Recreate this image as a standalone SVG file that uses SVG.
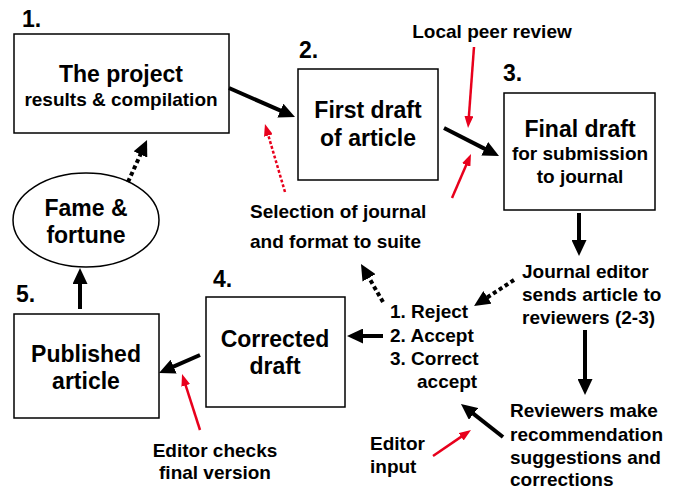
<svg xmlns="http://www.w3.org/2000/svg" width="673" height="490" viewBox="0 0 673 490">
<defs>
<style>
text{font-family:"Liberation Sans",Arial,sans-serif;font-weight:bold;fill:#000}
.t23{font-size:23px}
.t19{font-size:19px}
.c{text-anchor:middle}
.box{fill:#fff;stroke:#000;stroke-width:1.5}
.blk{stroke:#000;stroke-width:4;fill:none;marker-end:url(#ab)}
.blkd{stroke:#000;stroke-width:4;fill:none;stroke-dasharray:4 3;marker-end:url(#ab)}
.red{stroke:#e8001c;stroke-width:2.5;fill:none;marker-end:url(#ar)}
.redd{stroke:#e8001c;stroke-width:2.5;fill:none;stroke-dasharray:3 2;marker-end:url(#ar)}
</style>
<marker id="ab" markerUnits="userSpaceOnUse" markerWidth="16" markerHeight="15" refX="4" refY="7.5" orient="auto"><path d="M0,0 L16,7.5 L0,15 z" fill="#000"/></marker>
<marker id="ar" markerUnits="userSpaceOnUse" markerWidth="12" markerHeight="9" refX="3" refY="4.5" orient="auto"><path d="M0,0 L12,4.5 L0,9 z" fill="#e8001c"/></marker>
</defs>
<rect width="673" height="490" fill="#fff"/>
<g id="node1">
<text class="t23" x="22" y="27">1.</text>
<rect class="box" x="14" y="34" width="215" height="99"/>
<text class="t23 c" x="121" y="82">The project</text>
<text class="t19 c" x="121" y="106">results &amp; compilation</text>
</g>
<g id="node2">
<text class="t23" x="299" y="58">2.</text>
<rect class="box" x="298" y="69" width="140" height="111"/>
<text class="t23 c" x="368" y="118">First draft</text>
<text class="t23 c" x="368" y="146">of article</text>
</g>
<g id="node3">
<text class="t23" x="503" y="81">3.</text>
<rect class="box" x="504" y="93" width="151" height="117"/>
<text class="t23 c" x="580" y="137">Final draft</text>
<text class="t19 c" x="580" y="160">for submission</text>
<text class="t19 c" x="580" y="183">to journal</text>
</g>
<g id="node-fame">
<ellipse cx="86" cy="220" rx="73" ry="47" fill="#fff" stroke="#000" stroke-width="1.5"/>
<text class="t23 c" x="86" y="216">Fame &amp;</text>
<text class="t23 c" x="86" y="243">fortune</text>
</g>
<g id="node5">
<text class="t23" x="16" y="302">5.</text>
<rect class="box" x="14" y="314" width="145" height="104"/>
<text class="t23 c" x="86" y="362">Published</text>
<text class="t23 c" x="86" y="389">article</text>
</g>
<g id="node4">
<text class="t23" x="213" y="287">4.</text>
<rect class="box" x="206" y="297" width="139" height="110"/>
<text class="t23 c" x="275" y="347">Corrected</text>
<text class="t23 c" x="275" y="374">draft</text>
</g>
<g id="label-local">
<text class="t19 c" x="492" y="38">Local peer review</text>
</g>
<g id="label-selection">
<text class="t19" x="250" y="218">Selection of journal</text>
<text class="t19" x="250" y="248">and format to suite</text>
</g>
<g id="label-journal-editor">
<text class="t19" x="522" y="278">Journal editor</text>
<text class="t19" x="522" y="301">sends article to</text>
<text class="t19" x="522" y="324">reviewers (2-3)</text>
</g>
<g id="label-decision">
<text class="t19" x="390" y="318">1. Reject</text>
<text class="t19" x="390" y="342">2. Accept</text>
<text class="t19" x="390" y="365">3. Correct</text>
<text class="t19" x="417" y="388">accept</text>
</g>
<g id="label-reviewers">
<text class="t19" x="510" y="417">Reviewers make</text>
<text class="t19" x="510" y="441">recommendation</text>
<text class="t19" x="510" y="464">suggestions and</text>
<text class="t19" x="510" y="486">corrections</text>
</g>
<g id="label-editor-input">
<text class="t19" x="370" y="450">Editor</text>
<text class="t19" x="370" y="473">input</text>
</g>
<g id="label-editor-checks">
<text class="t19 c" x="215" y="457">Editor checks</text>
<text class="t19 c" x="215" y="479">final version</text>
</g>
<g id="connectors">
<line class="blk" x1="229" y1="88" x2="284" y2="112.2"/>
<line class="blk" x1="444" y1="128" x2="488.3" y2="150.6"/>
<line class="blk" x1="579" y1="213" x2="579" y2="244"/>
<line class="blk" x1="585" y1="330" x2="585" y2="383"/>
<line class="blk" x1="503" y1="437" x2="470.4" y2="411.4"/>
<line class="blk" x1="383" y1="336" x2="359" y2="336"/>
<line class="blk" x1="200" y1="355" x2="170" y2="368.2"/>
<line class="blk" x1="80" y1="309" x2="80" y2="280"/>
<line class="blkd" x1="128" y1="182" x2="142.1" y2="150.9"/>
<line class="blkd" x1="514" y1="280" x2="484.1" y2="299.5"/>
<line class="blkd" x1="383" y1="302" x2="367" y2="274.4"/>
<line class="red" x1="474" y1="47" x2="468.7" y2="119"/>
<line class="red" x1="452" y1="198" x2="467.4" y2="162.3"/>
<line class="redd" x1="285" y1="192" x2="267.5" y2="132.6"/>
<line class="red" x1="200" y1="430" x2="184.8" y2="382.6"/>
<line class="red" x1="433" y1="456" x2="463.6" y2="435.1"/>
</g>
</svg>
